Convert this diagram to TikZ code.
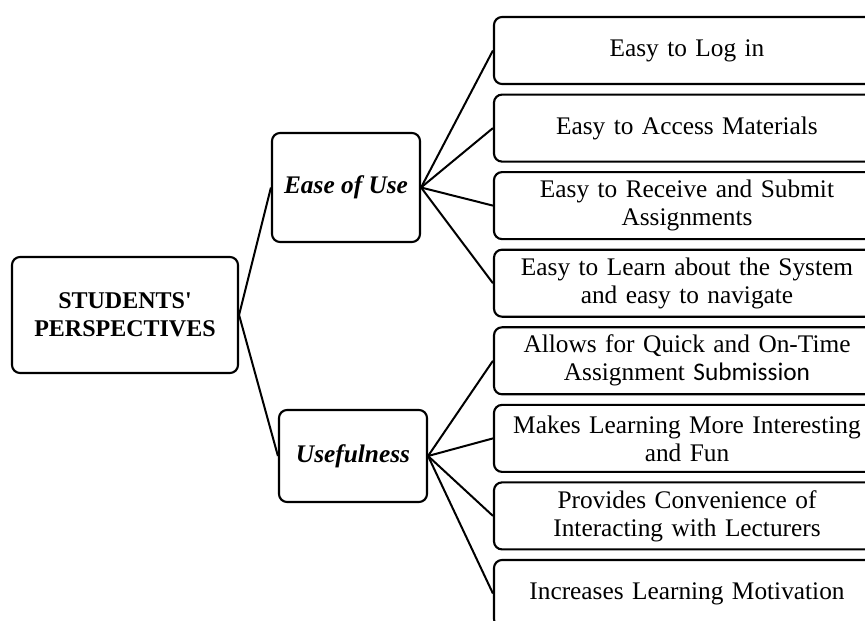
\documentclass[tikz,border=0pt]{standalone}
\usepackage{fontspec}
\setmainfont{Liberation Serif}
\newfontfamily\rawserif{Liberation Serif}
\newfontfamily\sansword{Carlito}
\begin{document}
\begin{tikzpicture}[x=0.75pt,y=-0.75pt,
  box/.style={draw=black, line width=1.6pt, rounded corners=6pt, fill=white,
    align=center, inner sep=0pt, font=\fontsize{19}{21}\selectfont},
  leaf/.style={box, minimum width=386*0.75pt, minimum height=67*0.75pt, text width=370*0.75pt},
  link/.style={draw=black, line width=1.5pt}]
\useasboundingbox (0,0) rectangle (865,621);
\clip (0,0) rectangle (865,621);
\node[box, minimum width=226*0.75pt, minimum height=116*0.75pt, font=\fontsize{18}{21}\selectfont\bfseries] (root) at (125,315) {STUDENTS{\rawserif\bfseries '}\\PERSPECTIVES};
\node[box, minimum width=148*0.75pt, minimum height=109*0.75pt, font=\fontsize{19}{21}\selectfont\bfseries\itshape] (ease) at (346,187.5) {Ease of Use};
\node[box, minimum width=148*0.75pt, minimum height=92*0.75pt, font=\fontsize{19}{21}\selectfont\bfseries\itshape] (use) at (353,456) {Usefulness};
\node[leaf] (a1) at (687,50.5) {Easy to Log in};
\node[leaf] (a2) at (687,128.1) {Easy to Access Materials};
\node[leaf] (a3) at (687,205.6) {Easy to Receive and Submit\\Assignments};
\node[leaf] (a4) at (687,283.2) {Easy to Learn about the System\\and easy to navigate};
\node[leaf] (b1) at (687,360.8) {Allows for Quick and On-Time\\Assignment {\sansword Submission}};
\node[leaf] (b2) at (687,438.4) {Makes Learning More Interesting\\and Fun};
\node[leaf] (b3) at (687,515.9) {Provides Convenience of\\Interacting with Lecturers};
\node[leaf] (b4) at (687,593.5) {Increases Learning Motivation};
\draw[link] (root.east) -- (ease.west);
\draw[link] (root.east) -- (use.west);
\foreach \n in {a1,a2,a3,a4} \draw[link] (ease.east) -- (\n.west);
\foreach \n in {b1,b2,b3,b4} \draw[link] (use.east) -- (\n.west);
\end{tikzpicture}
\end{document}
